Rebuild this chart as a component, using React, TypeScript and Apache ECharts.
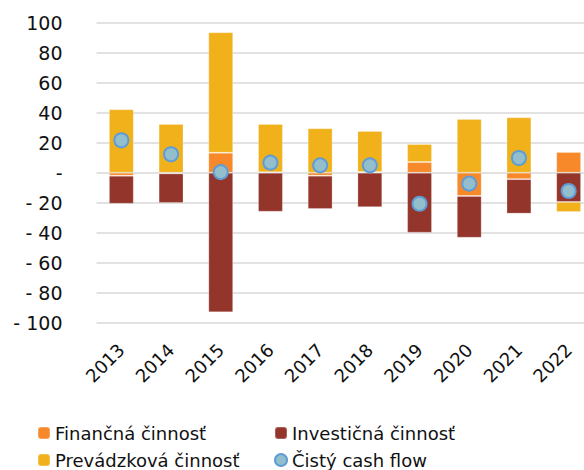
import React, { useEffect, useRef } from "react";
import * as echarts from "echarts";

const years = ["2013", "2014", "2015", "2016", "2017", "2018", "2019", "2020", "2021", "2022"];
const financna = [-2, -0.5, 13.3, 0.3, -2, 0.5, 7.1, -15.5, -4.3, 13.8];
const investicna = [-18.7, -19.7, -93.1, -26, -22.2, -23, -40, -27.8, -23, -19.5];
const prevadzkova = [42.3, 32.5, 80.3, 32.2, 29.6, 27.3, 12, 35.8, 36.9, -6.7];
const cistyCashFlow = [21.6, 12.3, 0.4, 6.7, 4.9, 4.9, -20.7, -7.3, 9.8, -12.2];

const names = ["Finančná činnosť", "Investičná činnosť", "Prevádzková činnosť", "Čistý cash flow"];
const colors = ["#F7892A", "#94352C", "#F0B11B"];
const FONT = "DejaVu Sans";

export default function App() {
  const ref = useRef<HTMLDivElement>(null);
  useEffect(() => {
    if (!ref.current) return;
    const chart = echarts.init(ref.current, undefined, { renderer: "svg" });
    const barSeries = [financna, investicna, prevadzkova].map((d, i) => ({
      name: names[i],
      type: "bar",
      stack: "cf",
      data: d,
      barWidth: "50%",
      itemStyle: { color: colors[i], borderColor: "rgba(255,255,255,0.22)", borderWidth: 1 },
    }));
    const legendText = { fontFamily: FONT, fontSize: 18, color: "#111" };
    const legendPos = [
      [37, 424],
      [274, 424],
      [37, 451],
      [274, 451],
    ];
    chart.setOption({
      animation: false,
      grid: { left: 96.5, top: 22.7, width: 497, height: 300, outerBoundsMode: "none" },
      xAxis: {
        type: "category",
        data: years,
        axisLine: { show: false, onZero: false },
        axisTick: { show: false },
        axisLabel: {
          rotate: 45,
          margin: 24,
          fontFamily: FONT,
          fontSize: 18,
          color: "#111",
        },
      },
      yAxis: {
        type: "value",
        min: -100,
        max: 100,
        interval: 20,
        axisLine: { show: false },
        axisTick: { show: false },
        splitLine: { lineStyle: { color: "#D9D9D9", width: 1.5 } },
        axisLabel: {
          margin: 34,
          fontFamily: FONT,
          fontSize: 19,
          color: "#111",
          formatter: (v: number) => (v === 0 ? "-" : v < 0 ? "- " + Math.abs(v) : String(v)),
        },
      },
      legend: names.map((n, i) => ({
        data: [n],
        left: legendPos[i][0],
        top: legendPos[i][1],
        padding: 0,
        itemWidth: 12,
        itemHeight: 12,
        textStyle: legendText,
        selectedMode: false,
      })),
      series: [
        ...barSeries,
        {
          name: names[3],
          type: "scatter",
          data: cistyCashFlow,
          symbol: "circle",
          symbolSize: 14,
          z: 5,
          itemStyle: { color: "#93BFCC", borderColor: "#5E9CD8", borderWidth: 2, opacity: 1 },
        },
      ],
    });
    return () => chart.dispose();
  }, []);
  return (
    <div
      ref={ref}
      style={{ position: "absolute", left: 0, top: 0, width: 584, height: 470, overflow: "hidden" }}
    />
  );
}
